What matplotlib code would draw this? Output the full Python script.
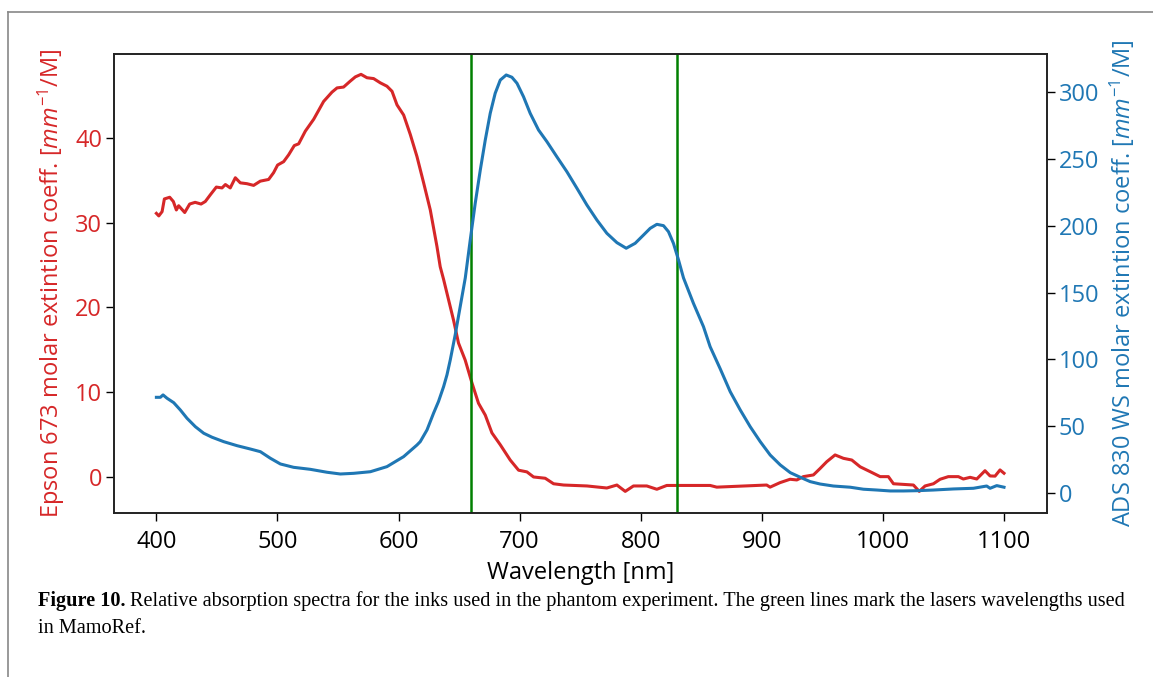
import matplotlib
matplotlib.use("Agg")
import matplotlib.pyplot as plt
from matplotlib.lines import Line2D

plt.rcParams['font.family'] = ['Open Sans', 'DejaVu Sans']
plt.rcParams['mathtext.fontset'] = 'custom'
plt.rcParams['mathtext.rm'] = 'Open Sans'
plt.rcParams['mathtext.it'] = 'Open Sans:italic'

# ---------------- data ----------------
red_wl = [400, 402, 404.7, 406.6, 411, 414, 416.5, 418.4, 423.4, 427.5, 432, 436.9, 440.4,
          444.6, 449.5, 454.2, 457, 461, 465.2, 469.3, 474.8, 480.3, 485.8, 492.7, 496.8,
          500.1, 505.1, 509.2, 513.9, 517.5, 523, 529.9, 538.1, 545, 549.2, 554.6, 560.1,
          564.3, 569, 573.9, 579.4, 584.9, 590.4, 594.6, 598.7, 604.2, 609.7, 615.2, 620.7,
          626.2, 631.7, 634.4, 637.2, 641.3, 645.4, 649.5, 655, 660.6, 666, 671.6, 677.1,
          684, 692.2, 699.1, 706, 711.5, 721.1, 728, 736.3, 755.6, 772, 780.3, 787.2, 794,
          805, 813.3, 821.5, 838, 857.3, 862.8, 904, 906.8, 915, 923.3, 928.9, 934.3, 942.6,
          948.1, 953.6, 960.5, 967.4, 974.3, 981.2, 989.4, 997.7, 1004.5, 1008.7, 1025.2,
          1030, 1034.8, 1041.7, 1047.2, 1054, 1062.3, 1066.4, 1072, 1077.5, 1084.3, 1088.5,
          1092.6, 1096.7, 1100]
red_val = [31.1, 30.8, 31.3, 32.8, 33.0, 32.5, 31.5, 32.0, 31.2, 32.2, 32.4, 32.2, 32.5,
           33.3, 34.2, 34.1, 34.5, 34.1, 35.3, 34.7, 34.6, 34.4, 34.9, 35.1, 35.9,
           36.8, 37.2, 38.0, 39.1, 39.3, 40.8, 42.2, 44.3, 45.4, 45.9, 46.0, 46.7,
           47.2, 47.5, 47.1, 47.0, 46.5, 46.1, 45.5, 43.9, 42.7, 40.4, 37.8, 34.7,
           31.5, 27.2, 24.8, 23.3, 20.9, 18.5, 15.8, 13.8, 11.1, 8.7, 7.3, 5.2,
           3.8, 2.0, 0.8, 0.6, 0.0, -0.15, -0.8, -0.95, -1.06, -1.3, -0.95, -1.7, -1.06,
           -1.06, -1.45, -1.0, -1.0, -1.0, -1.2, -0.95, -1.2, -0.67, -0.27, -0.35, 0.04, 0.24,
           1.0, 1.8, 2.6, 2.2, 2.0, 1.2, 0.63, 0.04, 0.04, -0.8, -0.95,
           -1.7, -1.06, -0.8, -0.27, 0.04, 0.04, -0.24, -0.04, -0.24, 0.74, 0.12,
           0.1, 0.83, 0.44]

blue_wl = [400, 403.3, 405.5, 408.8, 414.3, 419.8, 425.3, 432.2, 439.1, 446, 455.6, 466.6,
           477.6, 485.9, 494.1, 502.4, 513.3, 527.1, 540.9, 551.9, 562.9, 576.7, 590.4,
           604.2, 615.2, 617.9, 623.5, 628.9, 633.0, 637.2, 640.0, 642.7, 646.8, 651, 655.1,
           659.2, 663.3, 667.5, 671.6, 675.7, 679.8, 684, 688.9, 693.6, 697.8, 703.2, 708.7,
           715.6, 722.5, 730.7, 739, 747.3, 755.5, 763.8, 772, 780.3, 788, 795.4, 802.3,
           807.8, 813.3, 818.8, 822.9, 827, 831.2, 835.3, 843.5, 851.8, 857.3, 865.6, 873.9,
           882.2, 890.4, 898.7, 906.9, 915.2, 923.5, 931.6, 939.9, 948.1, 959.1, 973, 983.9,
           995, 1006, 1017, 1028, 1041.7, 1058.3, 1074.7, 1085.7, 1088.5, 1094, 1100]
blue_val = [71.6, 71.6, 73.4, 70.9, 67.6, 62.1, 55.9, 49.6, 44.7, 41.7, 38.4, 35.4,
            32.9, 30.9, 26.0, 21.7, 19.2, 17.7, 15.5, 14.2, 14.7, 15.9, 19.7,
            27.2, 35.9, 38.4, 47.2, 59.7, 68.5, 79.6, 88.5, 99.6, 118.5, 140, 161,
            189.4, 216.8, 241.8, 264.2, 284.2, 299.2, 309.1, 312.9, 311.2, 306.7, 296.6, 284.2,
            271.7, 263, 251.7, 240.5, 228.1, 215.6, 204.3, 194.4, 187.4, 183.2, 186.9, 193.1,
            198.1, 201.1, 200.1, 195.6, 186.9, 174.4, 161, 142, 124.5, 109.5, 93, 75.8,
            62.1, 49.6, 38.4, 28.4, 21, 15.2, 11.8, 8.5, 6.7, 5.2, 4.3, 2.8,
            2.2, 1.5, 1.5, 1.7, 2.2, 3.0, 3.5, 5.2, 3.5, 5.5, 4.3]

laser_wl = [660, 830]

x_label = 'Wavelength [nm]'
left_label = 'Epson 673 molar extintion coeff. [$mm^{-1}$/M]'
right_label = 'ADS 830 WS molar extintion coeff. [$mm^{-1}$/M]'
cap_bold = 'Figure 10.'
cap_line1 = 'Relative absorption spectra for the inks used in the phantom experiment. The green lines mark the lasers wavelengths used'
cap_line2 = 'in MamoRef.'

RED = '#d62728'
BLUE = '#1f77b4'
FS = 17

W, H = 1153, 677
fig = plt.figure(figsize=(W / 100, H / 100), dpi=100)
ax = fig.add_axes([114 / W, 1 - 513 / H, (1047 - 114) / W, (513 - 54) / H])

ax.plot(red_wl, red_val, color=RED, lw=2.2)
for wl in laser_wl:
    ax.axvline(wl, color='green', lw=1.8)
ax.set_xlabel(x_label, fontsize=FS, labelpad=5)
ax.set_ylabel(left_label, color=RED, fontsize=FS, labelpad=6)
ax.tick_params(axis='y', labelcolor=RED, pad=3)
ax.tick_params(axis='x', pad=7)
ax.tick_params(labelsize=FS, length=5.5, width=1.0)
ax.set_xticks([400, 500, 600, 700, 800, 900, 1000, 1100])
ax.set_yticks([0, 10, 20, 30, 40])

ax2 = ax.twinx()
ax2.plot(blue_wl, blue_val, color=BLUE, lw=2.2)
ax2.set_ylabel(right_label, color=BLUE, fontsize=FS, labelpad=6)
ax2.tick_params(axis='y', labelcolor=BLUE, labelsize=FS, length=5.5, width=1.0, pad=3)
ax2.set_yticks([0, 50, 100, 150, 200, 250, 300])
ax.set_ylim(-4.25, 49.9)
ax2.set_ylim(-15, 328.6)
ax.set_xlim(365, 1135.5)

for a in (ax, ax2):
    for s in a.spines.values():
        s.set_linewidth(1.2)
        s.set_color('#222222')

# page frame (grey)
fig.add_artist(Line2D([8 / W, 8 / W], [0, 1 - 12 / H], color='#888888', lw=1.2,
                      transform=fig.transFigure))
fig.add_artist(Line2D([8 / W, 1], [1 - 12 / H, 1 - 12 / H], color='#888888', lw=1.2,
                      transform=fig.transFigure))

# caption
cap_fs = 13.5
y1 = 1 - 606 / H
t1 = fig.text(38 / W, y1, cap_bold, fontsize=cap_fs, fontweight='bold',
              family='Liberation Serif', va='baseline', ha='left')
t2 = fig.text(0, 0, cap_line1, fontsize=cap_fs, family='Liberation Serif',
              va='baseline', ha='left')
t3 = fig.text(38 / W, 1 - 633 / H, cap_line2, fontsize=cap_fs, family='Liberation Serif',
              va='baseline', ha='left')

fig.canvas.draw()
r = fig.canvas.get_renderer()
b1 = t1.get_window_extent(r)
t2.set_position(((b1.x1 + 4) / W, y1))
b2 = t2.get_window_extent(r)
target_right = 1128
scale = (target_right - 38) / (b2.x1 - b1.x0)
for t in (t1, t2, t3):
    t.set_fontsize(cap_fs * scale)
fig.canvas.draw()
b1 = t1.get_window_extent(r)
t2.set_position(((b1.x1 + 4) / W, y1))

fig.savefig('out.png', dpi=100)
